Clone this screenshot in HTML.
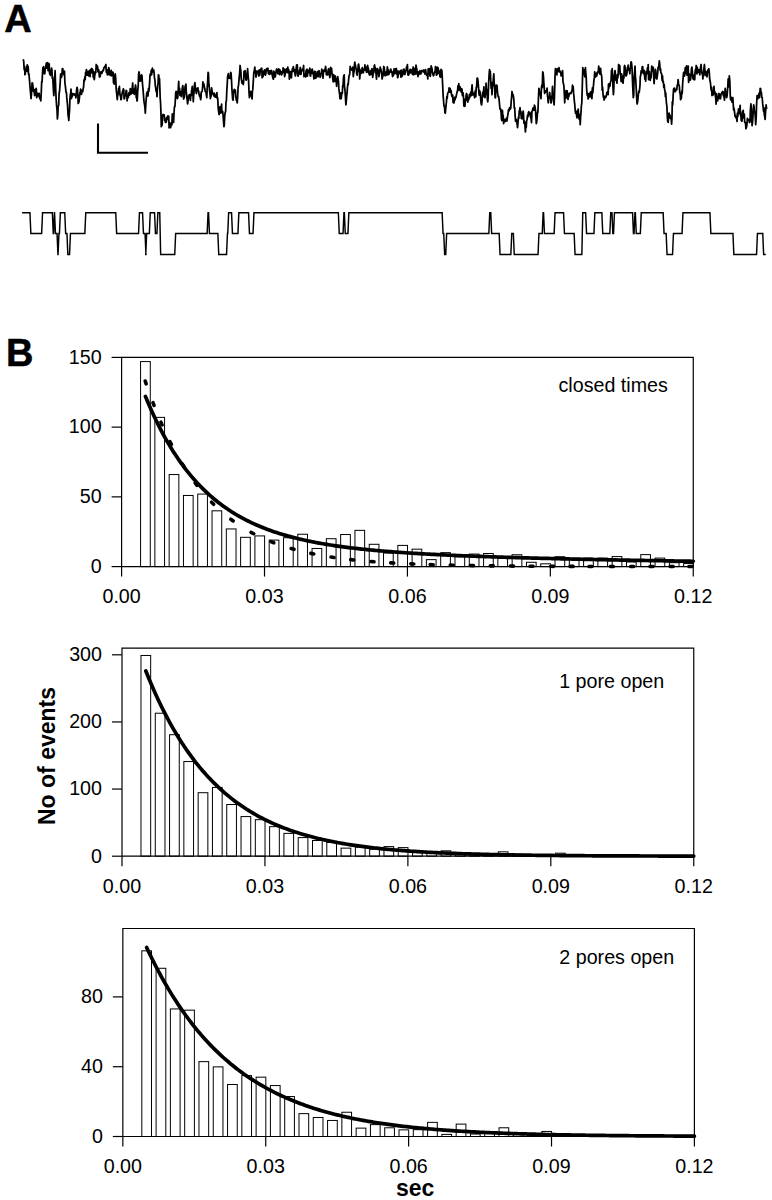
<!DOCTYPE html>
<html><head><meta charset="utf-8"><style>
html,body{margin:0;padding:0;background:#fff;}
svg{display:block;}
</style></head><body>
<svg width="772" height="1200" viewBox="0 0 772 1200">
<rect width="772" height="1200" fill="#fff"/>
<text x="4.2" y="31.8" font-family='"Liberation Sans", sans-serif' font-weight="bold" font-size="38" fill="#000" stroke="#000" stroke-width="0.5">A</text>
<text x="6.0" y="366.3" font-family='"Liberation Sans", sans-serif' font-weight="bold" font-size="38" fill="#000" stroke="#000" stroke-width="0.5">B</text>
<path d="M23.2,59.3 L23.7,61.3 L24.2,69.7 L24.6,66.3 L24.9,74.7 L25.3,73.8 L25.7,69.3 L26.1,70.4 L26.4,71.1 L26.8,67.1 L27.3,64.8 L27.8,71.8 L28.2,66.6 L28.5,73.9 L28.9,73.8 L29.4,79.0 L29.9,85.4 L30.4,91.5 L30.7,94.4 L31.0,98.7 L31.4,94.9 L31.8,88.5 L32.1,82.8 L32.5,83.2 L33.0,86.9 L33.5,91.5 L33.9,90.1 L34.2,89.6 L34.6,95.6 L35.0,95.2 L35.4,91.8 L35.7,91.3 L36.1,88.3 L36.4,90.2 L36.7,97.7 L37.1,95.2 L37.5,93.7 L37.9,93.4 L38.3,95.8 L38.7,94.6 L39.1,93.4 L39.5,97.6 L39.9,98.6 L40.3,98.7 L40.8,100.8 L41.3,91.5 L41.7,81.6 L42.1,82.0 L42.5,73.3 L42.9,67.6 L43.3,69.1 L43.6,66.6 L44.0,71.0 L44.4,73.8 L44.8,73.7 L45.2,69.2 L45.7,67.5 L46.1,64.3 L46.5,63.0 L46.9,68.2 L47.3,66.8 L47.7,62.6 L48.1,70.7 L48.5,69.5 L48.9,66.7 L49.2,63.9 L49.6,73.8 L50.0,71.3 L50.4,75.5 L50.8,70.9 L51.2,69.7 L51.6,68.2 L52.0,70.7 L52.3,78.3 L52.7,76.9 L53.1,83.6 L53.4,89.5 L53.8,95.6 L54.2,87.2 L54.7,79.1 L55.1,70.7 L55.5,83.4 L55.8,91.5 L56.2,99.9 L56.6,105.8 L57.0,109.1 L57.4,118.9 L57.8,114.9 L58.2,106.0 L58.7,105.5 L59.1,93.4 L59.5,91.5 L59.9,86.7 L60.2,82.6 L60.6,74.5 L61.0,73.8 L61.5,77.3 L61.9,75.3 L62.3,68.7 L62.8,68.7 L63.2,72.9 L63.7,73.9 L64.1,74.9 L64.5,71.2 L64.9,82.9 L65.3,85.6 L65.7,89.4 L66.1,92.7 L66.5,92.6 L66.8,97.9 L67.2,101.8 L67.6,106.0 L68.0,114.5 L68.4,116.8 L68.8,120.5 L69.2,114.0 L69.5,111.8 L69.9,99.5 L70.3,94.6 L70.7,93.4 L71.0,89.2 L71.4,98.5 L71.8,96.7 L72.2,96.4 L72.5,95.5 L72.9,93.5 L73.3,94.2 L73.8,94.8 L74.2,93.8 L74.6,94.3 L75.1,95.4 L75.5,95.6 L75.9,97.8 L76.3,93.0 L76.7,89.2 L77.1,87.3 L77.5,89.6 L77.8,93.3 L78.2,103.4 L78.6,102.8 L79.0,101.6 L79.4,97.8 L79.8,94.1 L80.2,92.5 L80.6,89.2 L81.1,92.0 L81.5,94.4 L81.9,90.7 L82.4,91.0 L82.8,91.5 L83.2,88.5 L83.6,87.0 L84.0,79.8 L84.4,81.2 L84.8,77.0 L85.2,79.4 L85.6,72.4 L86.0,73.7 L86.4,69.7 L86.8,75.2 L87.2,71.3 L87.7,71.7 L88.1,75.2 L88.5,75.9 L88.9,74.7 L89.3,70.6 L89.7,73.5 L90.1,76.6 L90.5,69.7 L90.9,69.5 L91.3,70.3 L91.6,68.5 L92.0,72.8 L92.4,69.0 L92.8,70.0 L93.2,77.2 L93.6,71.7 L93.9,77.8 L94.3,79.6 L94.7,75.9 L95.1,73.8 L95.5,71.7 L95.8,72.8 L96.2,64.5 L96.7,65.8 L97.1,66.5 L97.5,66.2 L98.0,71.8 L98.6,69.7 L99.0,71.4 L99.4,76.9 L99.8,77.0 L100.2,75.9 L100.6,72.4 L101.0,71.9 L101.5,72.0 L101.9,73.4 L102.3,71.8 L102.7,70.4 L103.1,70.8 L103.5,70.2 L103.9,67.7 L104.3,67.6 L104.7,67.5 L105.1,65.9 L105.5,66.7 L105.9,64.5 L106.3,72.3 L106.7,71.4 L107.0,72.5 L107.4,74.9 L107.8,69.6 L108.2,74.7 L108.7,67.6 L109.1,68.5 L109.5,71.8 L109.9,75.0 L110.3,75.4 L110.8,73.8 L111.2,70.3 L111.6,75.9 L112.0,74.0 L112.3,72.2 L112.7,75.0 L113.1,72.3 L113.5,82.6 L113.8,80.8 L114.2,84.2 L114.7,76.8 L115.2,73.8 L115.7,78.3 L116.2,89.4 L116.6,92.7 L116.9,95.8 L117.3,99.7 L117.7,93.8 L118.1,94.7 L118.6,88.4 L119.0,92.1 L119.4,86.3 L119.8,92.6 L120.2,96.0 L120.5,95.0 L120.9,99.7 L121.3,99.3 L121.7,95.6 L122.2,93.0 L122.6,91.3 L123.0,90.4 L123.4,88.8 L123.8,90.5 L124.1,98.8 L124.5,98.7 L124.9,96.1 L125.3,95.2 L125.7,95.3 L126.1,90.4 L126.6,90.7 L127.1,100.8 L127.5,96.9 L127.9,98.0 L128.4,96.9 L128.8,93.1 L129.2,92.5 L129.6,95.2 L129.9,92.8 L130.3,88.7 L130.7,89.3 L131.1,94.0 L131.4,92.9 L131.8,91.5 L132.3,87.3 L132.7,83.0 L133.1,93.2 L133.5,92.1 L133.9,91.5 L134.3,94.4 L134.7,88.7 L135.1,88.2 L135.5,85.0 L135.9,87.3 L136.2,97.5 L136.6,93.0 L137.0,101.0 L137.3,99.7 L137.7,90.9 L138.2,86.2 L138.6,74.1 L139.0,71.8 L139.4,73.8 L139.7,80.8 L140.1,81.1 L140.5,76.0 L140.8,81.0 L141.2,77.4 L141.6,74.9 L142.0,75.8 L142.3,81.1 L142.7,86.3 L143.2,91.2 L143.7,98.7 L144.1,102.2 L144.5,104.4 L144.9,107.3 L145.3,113.2 L145.8,104.6 L146.3,97.7 L146.7,93.8 L147.2,92.0 L147.6,94.5 L148.0,96.0 L148.5,88.3 L148.9,91.5 L149.3,87.1 L149.7,80.8 L150.0,75.5 L150.4,73.8 L150.8,75.2 L151.2,70.3 L151.6,74.9 L152.0,69.7 L152.4,68.1 L152.8,72.0 L153.3,70.9 L153.7,70.1 L154.1,72.8 L154.5,78.2 L154.9,79.8 L155.3,85.7 L155.7,87.6 L156.1,91.5 L156.6,91.0 L157.0,96.6 L157.3,90.9 L157.7,85.9 L158.1,83.0 L158.4,74.9 L158.8,75.2 L159.1,80.5 L159.5,78.6 L159.8,86.3 L160.2,98.2 L160.6,103.5 L160.9,111.5 L161.3,126.7 L161.7,124.3 L162.1,125.2 L162.6,115.6 L163.0,114.5 L163.4,115.3 L163.8,114.7 L164.2,115.0 L164.7,120.7 L165.1,118.8 L165.5,122.5 L165.9,119.5 L166.3,122.1 L166.7,117.3 L167.1,119.6 L167.5,117.4 L167.9,116.0 L168.3,116.6 L168.7,116.1 L169.1,127.8 L169.4,122.9 L169.8,125.8 L170.2,126.3 L170.6,127.7 L171.0,125.4 L171.4,122.4 L171.9,124.9 L172.3,114.0 L172.7,114.2 L173.1,114.0 L173.6,122.5 L174.0,113.7 L174.4,106.8 L174.9,106.6 L175.3,100.8 L175.7,92.5 L176.1,91.4 L176.5,91.7 L176.9,96.2 L177.3,98.7 L177.8,97.4 L178.3,88.3 L178.7,81.4 L179.1,91.9 L179.6,88.4 L180.0,95.4 L180.4,93.5 L180.9,92.0 L181.4,96.6 L181.9,91.2 L182.4,87.3 L182.8,85.7 L183.2,89.8 L183.6,99.0 L184.0,97.7 L184.4,97.0 L184.8,90.6 L185.1,86.3 L185.5,85.8 L185.9,84.1 L186.3,91.9 L186.8,96.6 L187.2,100.0 L187.6,103.9 L188.0,101.3 L188.4,96.1 L188.8,96.7 L189.2,94.6 L189.6,94.7 L190.0,98.6 L190.4,100.4 L190.8,95.0 L191.2,95.6 L191.6,90.4 L191.9,89.2 L192.3,86.3 L192.8,92.3 L193.3,101.8 L193.7,94.9 L194.1,92.0 L194.5,84.5 L194.9,82.6 L195.3,87.0 L195.7,87.8 L196.0,91.5 L196.4,93.5 L196.8,91.6 L197.1,88.7 L197.5,89.4 L197.9,87.8 L198.2,90.8 L198.6,90.9 L199.0,93.5 L199.4,95.7 L199.8,96.6 L200.2,94.3 L200.6,99.7 L201.0,97.8 L201.3,91.8 L201.7,91.8 L202.1,91.5 L202.5,88.7 L202.9,81.8 L203.3,85.9 L203.7,83.7 L204.1,86.1 L204.4,87.2 L204.8,88.4 L205.2,91.5 L205.6,92.0 L206.0,91.9 L206.4,95.4 L206.8,97.7 L207.2,87.7 L207.7,81.0 L208.1,72.3 L208.5,73.6 L208.8,82.3 L209.2,86.3 L209.6,90.8 L210.0,94.2 L210.4,98.7 L210.8,95.4 L211.2,96.1 L211.6,87.8 L212.0,90.4 L212.4,92.7 L212.8,93.2 L213.1,94.3 L213.5,94.6 L213.9,95.9 L214.3,93.2 L214.8,94.5 L215.2,97.2 L215.6,95.6 L216.0,97.2 L216.4,97.0 L216.9,92.6 L217.3,98.8 L217.7,97.7 L218.2,108.2 L218.7,112.2 L219.1,114.6 L219.5,112.0 L220.0,106.6 L220.4,113.2 L220.8,110.1 L221.2,110.2 L221.6,104.1 L221.9,112.7 L222.3,112.2 L222.7,111.6 L223.1,115.8 L223.5,121.3 L223.9,126.7 L224.3,125.3 L224.7,115.7 L225.2,112.5 L225.6,111.7 L226.0,101.8 L226.4,100.9 L226.8,90.8 L227.2,85.0 L227.6,76.7 L228.0,74.9 L228.4,73.7 L228.8,77.6 L229.2,78.3 L229.6,78.0 L230.0,77.1 L230.3,78.4 L230.7,72.3 L231.1,73.3 L231.5,79.7 L231.9,88.5 L232.3,94.7 L232.7,99.7 L233.1,100.1 L233.4,95.7 L233.8,91.1 L234.2,89.4 L234.6,92.2 L235.0,90.2 L235.4,90.2 L235.8,96.6 L236.3,100.3 L236.7,100.6 L237.2,102.8 L237.6,98.2 L238.1,87.2 L238.5,85.5 L238.9,81.1 L239.3,76.3 L239.7,72.5 L240.1,65.5 L240.5,68.7 L240.9,71.4 L241.2,78.5 L241.6,80.6 L242.0,83.2 L242.4,81.2 L242.8,82.6 L243.2,84.5 L243.6,82.1 L244.0,71.5 L244.3,76.1 L244.7,75.1 L245.1,70.7 L245.5,74.7 L245.8,79.6 L246.2,80.1 L246.6,79.0 L247.1,74.7 L247.6,68.7 L248.1,75.7 L248.6,81.1 L249.0,91.6 L249.4,97.7 L249.8,94.1 L250.3,93.5 L250.7,91.5 L251.2,96.1 L251.7,95.6 L252.1,99.0 L252.4,91.0 L252.8,89.4 L253.3,81.0 L253.8,72.8 L254.3,70.5 L254.8,67.1 L255.2,72.8 L255.6,70.9 L256.0,77.1 L256.4,74.9 L256.8,71.2 L257.2,72.4 L257.7,71.4 L258.1,71.0 L258.5,74.2 L258.9,76.0 L259.3,69.8 L259.8,75.1 L260.2,70.4 L260.6,71.7 L261.1,68.5 L261.4,68.7 L261.8,68.3 L262.1,77.6 L262.5,76.7 L262.9,76.7 L263.3,75.3 L263.7,71.2 L264.2,74.1 L264.6,69.8 L265.0,70.3 L265.4,75.2 L265.9,73.2 L266.3,69.6 L266.7,68.6 L267.1,70.4 L267.5,68.7 L267.9,68.2 L268.3,73.5 L268.8,73.7 L269.2,74.4 L269.6,71.0 L270.0,73.0 L270.3,71.0 L270.7,73.8 L271.1,70.4 L271.6,70.7 L272.0,73.2 L272.5,76.5 L272.9,78.1 L273.4,79.2 L273.8,71.2 L274.2,77.1 L274.6,72.1 L274.9,72.9 L275.3,76.9 L275.7,72.9 L276.1,72.1 L276.5,69.1 L276.9,71.3 L277.3,72.2 L277.7,73.6 L278.0,70.5 L278.4,68.8 L278.8,73.9 L279.2,69.3 L279.6,74.6 L280.1,70.1 L280.5,71.6 L280.9,71.7 L281.2,73.2 L281.6,74.9 L282.0,73.7 L282.4,71.6 L282.7,72.8 L283.1,67.8 L283.4,69.2 L283.8,69.6 L284.2,69.1 L284.6,76.6 L285.0,74.8 L285.4,73.3 L285.8,69.8 L286.1,69.4 L286.5,68.9 L286.9,69.2 L287.3,72.6 L287.8,67.1 L288.2,72.4 L288.6,69.4 L289.0,71.1 L289.4,79.1 L289.8,74.6 L290.2,71.8 L290.6,71.6 L291.0,74.0 L291.4,77.9 L291.8,72.3 L292.2,70.2 L292.6,68.4 L293.0,71.4 L293.3,66.6 L293.7,69.4 L294.1,71.4 L294.5,69.5 L294.8,72.4 L295.3,76.0 L295.7,73.5 L296.2,68.4 L296.6,65.0 L297.0,69.7 L297.3,64.9 L297.7,75.2 L298.1,76.2 L298.4,74.1 L298.8,74.3 L299.2,73.4 L299.5,70.0 L299.9,70.1 L300.3,67.5 L300.6,74.3 L301.0,74.4 L301.4,71.1 L301.9,71.1 L302.3,69.2 L302.7,69.7 L303.2,69.9 L303.6,65.5 L304.0,76.6 L304.5,74.4 L304.9,74.1 L305.3,75.5 L305.7,76.9 L306.1,70.4 L306.5,72.4 L307.0,69.2 L307.4,76.2 L307.8,72.4 L308.2,70.4 L308.6,71.1 L309.0,71.3 L309.4,72.7 L309.8,68.1 L310.2,75.8 L310.6,76.0 L311.0,70.1 L311.4,73.4 L311.8,70.6 L312.2,69.2 L312.6,70.8 L313.1,73.9 L313.5,75.0 L313.9,79.0 L314.2,75.8 L314.6,71.3 L315.0,74.5 L315.3,78.3 L315.7,71.7 L316.1,77.9 L316.6,76.7 L317.0,75.7 L317.4,74.4 L317.8,71.6 L318.2,76.6 L318.6,71.5 L319.0,70.7 L319.4,72.7 L319.8,74.3 L320.2,77.3 L320.6,76.3 L321.0,73.6 L321.4,73.3 L321.8,69.2 L322.3,70.9 L322.6,70.4 L323.0,78.3 L323.4,72.4 L323.8,71.4 L324.2,70.0 L324.5,71.3 L324.9,70.9 L325.3,68.1 L325.6,66.3 L326.0,70.2 L326.4,74.8 L326.7,73.6 L327.1,73.3 L327.5,72.0 L327.9,75.0 L328.2,69.7 L328.6,68.7 L329.0,71.8 L329.4,71.0 L329.8,77.6 L330.2,74.3 L330.6,67.4 L330.9,69.5 L331.3,68.3 L331.6,68.3 L332.0,74.0 L332.4,75.9 L332.8,78.6 L333.2,81.9 L333.6,74.6 L334.0,80.0 L334.4,81.4 L334.8,77.7 L335.1,75.9 L335.5,77.0 L335.9,81.6 L336.2,80.6 L336.6,86.3 L337.0,78.7 L337.4,81.6 L337.7,76.6 L338.1,79.0 L338.5,81.3 L338.8,88.4 L339.2,91.5 L339.6,93.8 L340.0,98.8 L340.4,95.3 L340.8,93.0 L341.2,98.7 L341.6,94.8 L341.9,92.7 L342.3,93.5 L342.7,85.7 L343.1,85.9 L343.4,78.5 L343.8,75.9 L344.2,74.9 L344.5,86.9 L344.9,89.4 L345.4,96.8 L345.9,104.9 L346.3,101.2 L346.7,95.9 L347.1,92.7 L347.5,86.3 L347.9,83.8 L348.2,84.6 L348.6,79.7 L349.0,75.9 L349.4,75.2 L349.8,73.4 L350.2,66.4 L350.6,68.7 L351.0,68.6 L351.5,68.6 L351.9,70.2 L352.4,70.0 L352.8,67.2 L353.3,76.7 L353.7,73.2 L354.1,71.4 L354.4,65.7 L354.8,62.2 L355.2,64.9 L355.6,66.1 L355.9,68.7 L356.3,69.0 L356.7,73.4 L357.1,75.1 L357.5,70.6 L357.9,71.2 L358.2,64.9 L358.6,64.1 L359.0,66.5 L359.4,71.9 L359.7,78.9 L360.1,74.2 L360.5,70.6 L360.8,71.3 L361.2,69.5 L361.5,73.3 L361.9,70.3 L362.3,67.7 L362.7,70.1 L363.0,72.0 L363.4,72.7 L363.8,69.5 L364.1,69.0 L364.5,69.9 L364.9,64.8 L365.2,70.2 L365.6,66.7 L366.1,70.1 L366.5,72.2 L366.9,72.3 L367.2,70.8 L367.6,65.3 L368.0,68.0 L368.4,68.3 L368.8,72.8 L369.2,74.3 L369.6,75.0 L370.0,74.0 L370.4,71.0 L370.8,74.6 L371.2,70.4 L371.6,71.3 L372.0,68.7 L372.3,70.5 L372.7,77.4 L373.1,74.1 L373.5,72.4 L373.8,72.8 L374.2,65.9 L374.6,65.0 L375.0,69.7 L375.3,67.5 L375.7,70.8 L376.0,73.3 L376.5,79.2 L376.9,73.3 L377.3,68.7 L377.7,69.0 L378.1,70.2 L378.5,72.8 L378.9,76.6 L379.3,74.6 L379.7,71.9 L380.2,67.1 L380.6,69.8 L381.0,69.3 L381.4,71.3 L381.8,73.6 L382.1,79.0 L382.5,77.4 L382.9,75.7 L383.3,74.4 L383.7,66.5 L384.2,67.0 L384.6,70.9 L385.0,75.8 L385.4,73.6 L385.8,73.0 L386.2,72.8 L386.5,71.6 L386.9,75.3 L387.3,66.9 L387.6,68.6 L388.0,69.6 L388.3,72.5 L388.7,74.7 L389.0,73.9 L389.5,71.5 L389.9,72.4 L390.4,69.6 L390.8,69.2 L391.2,71.4 L391.6,72.5 L392.0,71.5 L392.5,76.5 L392.9,74.7 L393.3,75.6 L393.8,71.5 L394.1,68.9 L394.5,71.0 L394.9,73.7 L395.3,68.9 L395.7,72.0 L396.0,72.3 L396.4,68.5 L396.8,74.3 L397.2,70.9 L397.6,77.6 L398.0,77.1 L398.3,71.1 L398.7,72.0 L399.2,73.7 L399.6,71.6 L400.1,71.0 L400.5,72.2 L400.9,77.2 L401.2,70.2 L401.6,74.8 L402.0,76.5 L402.4,72.1 L402.8,74.9 L403.2,69.7 L403.6,70.9 L404.0,69.2 L404.4,72.5 L404.8,74.5 L405.2,73.2 L405.7,71.2 L406.1,70.4 L406.6,66.9 L407.0,67.3 L407.4,64.6 L407.9,74.9 L408.3,74.2 L408.7,75.0 L409.2,72.2 L409.6,70.8 L410.1,69.4 L410.4,73.0 L410.8,69.6 L411.1,69.6 L411.5,72.3 L411.9,71.1 L412.4,74.4 L412.8,70.4 L413.2,67.0 L413.7,74.8 L414.1,70.2 L414.5,72.5 L414.9,68.5 L415.3,74.1 L415.7,69.4 L416.0,65.1 L416.4,67.7 L416.8,68.7 L417.2,74.4 L417.6,73.8 L418.0,76.7 L418.4,71.8 L418.8,73.8 L419.2,74.3 L419.6,71.9 L419.9,70.6 L420.3,73.8 L420.7,73.2 L421.0,73.8 L421.5,71.3 L421.9,70.5 L422.3,70.9 L422.7,71.4 L423.1,71.6 L423.5,70.2 L423.9,72.1 L424.3,70.3 L424.8,74.0 L425.2,70.8 L425.6,69.6 L426.1,73.2 L426.5,75.2 L427.0,74.5 L427.4,74.0 L427.8,79.0 L428.2,69.0 L428.7,72.3 L429.1,68.7 L429.5,68.7 L429.9,75.8 L430.3,76.3 L430.7,72.5 L431.2,65.9 L431.6,67.6 L432.1,69.3 L432.5,72.6 L433.0,74.5 L433.4,75.8 L433.8,75.2 L434.2,72.9 L434.7,72.2 L435.1,70.7 L435.5,66.7 L435.9,69.3 L436.4,75.1 L436.8,75.0 L437.2,67.2 L437.6,73.8 L437.9,67.6 L438.3,68.9 L438.8,73.3 L439.2,71.6 L439.6,71.4 L440.0,76.6 L440.5,77.2 L440.6,70.7 L441.0,69.4 L441.4,70.7 L441.8,70.2 L442.2,75.9 L442.7,86.2 L443.2,96.6 L443.6,101.3 L444.0,106.1 L444.5,106.2 L444.9,112.8 L445.3,113.2 L445.7,109.1 L446.1,104.6 L446.4,102.4 L446.8,96.6 L447.2,98.5 L447.6,93.6 L448.0,92.8 L448.4,92.0 L448.7,91.6 L449.1,87.9 L449.5,92.2 L449.9,88.3 L450.3,88.8 L450.7,92.7 L451.1,90.7 L451.5,94.6 L451.9,96.2 L452.3,96.8 L452.7,95.1 L453.1,102.5 L453.5,98.5 L453.9,103.0 L454.3,101.3 L454.7,97.3 L455.1,99.7 L455.5,97.0 L455.9,97.6 L456.4,95.0 L456.8,93.3 L457.2,91.5 L457.6,90.3 L458.0,85.6 L458.4,89.7 L458.8,83.7 L459.1,90.5 L459.5,87.1 L459.9,86.7 L460.3,88.3 L460.7,89.1 L461.1,92.0 L461.6,88.7 L462.0,89.2 L462.4,95.6 L462.8,94.1 L463.1,92.9 L463.5,97.3 L463.9,106.0 L464.3,100.1 L464.6,106.3 L465.0,106.0 L465.4,99.0 L465.8,100.6 L466.1,95.7 L466.5,93.5 L466.9,94.6 L467.3,97.6 L467.8,102.1 L468.2,99.0 L468.6,99.7 L469.0,98.8 L469.4,94.4 L469.8,97.5 L470.1,93.9 L470.5,95.6 L470.9,91.9 L471.3,95.6 L471.7,89.4 L472.1,84.9 L472.4,90.6 L472.8,94.9 L473.1,93.5 L473.5,93.6 L473.9,93.4 L474.3,95.9 L474.7,97.7 L475.1,91.2 L475.4,92.8 L475.8,96.7 L476.2,87.3 L476.6,87.4 L477.1,78.0 L477.5,78.0 L477.9,80.1 L478.4,85.9 L478.8,91.5 L479.2,95.1 L479.6,90.7 L480.0,91.9 L480.4,94.6 L480.8,100.5 L481.2,103.9 L481.6,104.9 L482.0,101.2 L482.4,96.4 L482.7,92.5 L483.1,92.2 L483.5,91.5 L483.9,86.8 L484.2,96.7 L484.6,94.4 L485.0,97.7 L485.4,94.2 L485.7,93.3 L486.1,83.2 L486.5,91.1 L487.0,89.3 L487.4,99.6 L487.8,101.8 L488.2,97.0 L488.6,83.7 L489.1,75.1 L489.5,69.7 L489.9,72.5 L490.3,71.4 L490.7,79.0 L491.1,88.3 L491.6,82.7 L492.0,94.6 L492.4,87.3 L492.7,85.5 L493.1,81.5 L493.4,78.4 L493.8,73.8 L494.2,82.5 L494.7,89.1 L495.1,97.7 L495.5,97.8 L495.9,85.5 L496.3,88.3 L496.7,85.2 L497.1,86.0 L497.4,91.3 L497.8,94.4 L498.2,96.6 L498.6,96.5 L499.1,99.7 L499.5,103.9 L499.9,108.4 L500.3,109.5 L500.7,109.0 L501.1,113.2 L501.5,119.3 L501.9,120.5 L502.4,110.4 L502.8,115.7 L503.2,115.3 L503.6,123.6 L504.0,120.0 L504.4,119.6 L504.8,119.7 L505.2,121.5 L505.6,119.4 L506.0,119.7 L506.5,118.1 L506.9,121.1 L507.3,118.4 L507.7,115.5 L508.1,113.5 L508.5,109.6 L508.9,111.1 L509.3,110.5 L509.6,107.6 L510.0,109.1 L510.4,109.1 L510.8,107.6 L511.2,101.3 L511.6,97.3 L512.0,91.5 L512.4,93.8 L512.8,94.2 L513.1,95.0 L513.5,96.6 L513.9,100.4 L514.3,108.1 L514.7,107.6 L515.1,115.3 L515.5,121.1 L515.9,119.5 L516.3,119.4 L516.7,122.2 L517.1,123.7 L517.5,127.7 L517.9,124.0 L518.4,117.4 L518.8,118.4 L519.2,111.1 L519.6,110.4 L520.0,107.7 L520.5,113.4 L520.9,111.3 L521.3,118.4 L521.7,117.0 L522.0,118.8 L522.4,116.3 L522.8,113.2 L523.2,111.1 L523.5,114.4 L523.9,123.2 L524.3,120.8 L524.7,121.6 L525.0,126.3 L525.4,131.9 L525.8,126.7 L526.2,127.5 L526.6,121.4 L527.1,119.1 L527.5,115.3 L527.9,116.8 L528.3,113.1 L528.8,111.7 L529.2,114.6 L529.6,114.2 L530.0,112.6 L530.4,116.1 L530.7,117.6 L531.1,118.4 L531.5,122.6 L531.9,111.4 L532.3,111.1 L532.7,109.1 L533.1,108.0 L533.5,109.1 L534.0,110.2 L534.4,105.2 L534.8,106.0 L535.2,108.1 L535.5,110.2 L535.9,116.6 L536.3,123.6 L536.7,122.3 L537.1,118.0 L537.5,112.2 L537.9,112.2 L538.4,99.2 L538.9,88.3 L539.3,90.5 L539.7,93.9 L540.2,92.9 L540.6,95.9 L541.0,98.7 L541.4,88.4 L541.8,85.1 L542.3,87.7 L542.7,71.9 L543.1,72.8 L543.5,77.0 L543.9,83.8 L544.2,87.3 L544.6,93.5 L545.0,90.6 L545.4,92.1 L545.9,91.6 L546.3,90.8 L546.7,90.4 L547.1,88.2 L547.5,96.2 L547.8,97.3 L548.2,102.8 L548.6,98.7 L549.0,98.3 L549.3,96.9 L549.7,92.5 L550.1,97.6 L550.5,96.3 L550.8,102.8 L551.2,102.8 L551.6,100.6 L552.1,95.0 L552.5,86.3 L552.9,94.8 L553.3,95.2 L553.7,99.8 L554.1,104.9 L554.5,95.1 L555.0,76.9 L555.4,68.7 L555.8,70.8 L556.1,70.3 L556.5,72.3 L556.9,74.9 L557.3,68.6 L557.7,69.5 L558.2,70.5 L558.6,71.5 L559.0,67.6 L559.4,72.0 L559.8,70.7 L560.3,72.0 L560.7,71.9 L561.1,75.9 L561.5,75.7 L561.9,72.6 L562.2,73.7 L562.6,70.7 L563.0,82.0 L563.4,83.4 L563.9,85.8 L564.3,94.0 L564.7,102.8 L565.2,94.1 L565.7,93.5 L566.1,90.5 L566.5,97.9 L566.9,95.3 L567.2,90.8 L567.6,97.3 L568.0,99.4 L568.4,95.2 L568.8,96.6 L569.2,93.4 L569.6,93.1 L570.0,93.6 L570.4,93.3 L570.9,93.6 L571.3,92.4 L571.7,91.1 L572.1,90.3 L572.5,85.2 L572.9,89.9 L573.2,86.6 L573.6,93.4 L574.0,96.6 L574.4,101.6 L574.7,103.9 L575.1,109.1 L575.5,113.2 L575.9,111.2 L576.2,111.2 L576.6,115.3 L577.0,117.8 L577.4,114.1 L577.8,111.3 L578.2,109.1 L578.6,114.8 L579.0,118.3 L579.4,119.4 L579.8,114.6 L580.2,124.6 L580.6,117.3 L581.0,112.4 L581.4,105.5 L581.8,102.8 L582.3,85.8 L582.8,67.6 L583.2,72.8 L583.6,69.9 L584.0,69.9 L584.4,74.9 L584.9,76.9 L585.4,67.6 L585.8,72.8 L586.2,77.1 L586.6,87.7 L587.0,93.5 L587.4,95.7 L587.8,93.6 L588.1,98.9 L588.5,97.7 L588.9,95.6 L589.2,93.6 L589.6,96.0 L590.0,96.9 L590.4,92.2 L590.7,94.2 L591.1,92.5 L591.5,91.4 L591.9,98.7 L592.4,88.0 L592.8,93.0 L593.2,88.3 L593.6,84.0 L594.0,79.7 L594.3,77.9 L594.7,71.8 L595.1,75.1 L595.5,77.0 L596.0,75.2 L596.4,73.4 L596.8,75.9 L597.2,72.4 L597.6,73.4 L597.9,71.6 L598.3,72.0 L598.7,66.1 L599.1,68.6 L599.5,71.6 L599.9,74.2 L600.2,71.7 L600.6,68.4 L601.0,73.8 L601.4,74.4 L601.8,77.7 L602.2,90.1 L602.6,87.2 L603.0,93.5 L603.4,97.5 L603.7,96.3 L604.1,100.1 L604.5,98.7 L604.9,96.2 L605.2,96.5 L605.6,97.7 L606.0,96.7 L606.4,95.7 L606.9,92.5 L607.3,92.6 L607.7,91.5 L608.1,94.7 L608.5,84.1 L608.9,88.3 L609.2,83.8 L609.6,85.5 L610.0,86.1 L610.4,82.2 L610.8,81.1 L611.1,80.2 L611.5,70.4 L611.9,74.9 L612.2,68.7 L612.6,75.6 L613.0,87.7 L613.4,94.6 L613.8,89.1 L614.2,75.4 L614.6,74.6 L615.0,70.7 L615.4,73.8 L615.8,80.1 L616.2,79.0 L616.6,81.4 L617.0,83.2 L617.4,74.6 L617.8,77.9 L618.2,74.2 L618.6,64.5 L619.0,66.4 L619.4,67.6 L619.8,65.5 L620.2,74.4 L620.6,73.8 L621.1,81.4 L621.6,73.8 L622.0,78.2 L622.4,82.0 L622.7,82.4 L623.1,83.2 L623.5,76.0 L623.9,78.1 L624.3,66.5 L624.7,65.5 L625.1,67.5 L625.5,71.5 L625.8,75.8 L626.2,75.9 L626.6,75.0 L627.0,72.8 L627.4,67.5 L627.8,67.6 L628.2,65.2 L628.6,70.3 L629.0,69.3 L629.4,68.9 L629.8,73.8 L630.2,68.2 L630.5,68.3 L630.9,62.4 L631.2,61.8 L631.6,63.5 L632.0,67.5 L632.5,81.1 L632.9,90.3 L633.3,97.7 L633.7,95.4 L634.1,77.7 L634.6,72.1 L635.0,66.1 L635.4,76.3 L635.8,80.7 L636.2,88.1 L636.6,96.6 L637.1,104.0 L637.6,101.8 L638.0,98.5 L638.4,93.9 L638.8,91.1 L639.2,92.5 L639.6,89.3 L640.0,85.1 L640.3,76.2 L640.7,75.9 L641.1,70.8 L641.5,72.7 L641.9,70.5 L642.3,66.6 L642.7,66.6 L643.0,71.9 L643.4,73.6 L643.8,73.8 L644.2,70.3 L644.6,75.8 L644.9,79.3 L645.3,78.0 L645.7,81.1 L646.2,71.7 L646.6,73.6 L647.0,73.1 L647.5,67.6 L647.9,73.6 L648.2,64.6 L648.6,79.6 L649.0,73.8 L649.4,71.7 L649.8,78.6 L650.2,80.4 L650.6,78.0 L651.0,77.9 L651.4,72.7 L651.7,66.2 L652.1,66.6 L652.5,70.9 L652.9,69.7 L653.3,67.3 L653.7,76.9 L654.1,83.6 L654.5,76.4 L655.0,78.3 L655.4,69.4 L655.8,70.7 L656.2,76.1 L656.5,77.8 L656.9,79.0 L657.3,75.9 L657.7,73.2 L658.1,67.3 L658.5,67.6 L658.9,65.5 L659.3,60.8 L659.7,63.7 L660.1,70.1 L660.5,68.6 L660.9,72.8 L661.3,73.1 L661.7,74.0 L662.1,80.5 L662.5,75.9 L662.9,82.2 L663.3,81.2 L663.8,87.4 L664.2,84.5 L664.6,89.4 L665.0,90.8 L665.4,96.6 L665.7,92.9 L666.1,98.7 L666.5,103.6 L666.9,106.4 L667.3,116.1 L667.7,121.5 L668.2,122.4 L668.7,114.2 L669.1,113.1 L669.5,116.9 L669.9,114.8 L670.3,118.4 L670.7,117.1 L671.2,118.7 L671.6,124.1 L672.0,117.0 L672.3,101.8 L672.7,105.0 L673.1,96.4 L673.5,89.7 L673.9,88.3 L674.3,90.7 L674.7,88.2 L675.2,91.8 L675.6,90.8 L676.0,90.4 L676.4,90.0 L676.8,89.7 L677.2,85.2 L677.7,84.5 L678.1,79.6 L678.5,83.2 L678.9,85.3 L679.3,85.8 L679.8,92.7 L680.2,93.7 L680.6,99.7 L681.0,98.4 L681.4,97.9 L681.8,91.1 L682.2,93.5 L682.7,82.9 L683.2,76.9 L683.6,72.4 L684.0,75.3 L684.5,76.1 L684.9,71.8 L685.3,67.6 L685.7,67.5 L686.1,73.4 L686.6,65.9 L687.0,75.2 L687.4,71.8 L687.8,71.0 L688.2,66.1 L688.6,82.3 L689.0,80.3 L689.3,74.0 L689.7,78.4 L690.1,78.4 L690.5,80.0 L691.0,74.6 L691.5,68.7 L691.9,67.1 L692.4,71.9 L692.8,77.7 L693.2,79.0 L693.6,78.2 L694.0,79.5 L694.3,74.9 L694.7,79.8 L695.1,71.8 L695.5,69.5 L695.8,71.9 L696.2,65.5 L696.6,67.1 L697.0,74.0 L697.3,67.4 L697.7,69.7 L698.1,72.2 L698.5,71.6 L699.0,69.9 L699.4,72.9 L699.8,74.9 L700.2,70.0 L700.7,66.6 L701.1,64.5 L701.5,70.2 L702.0,73.6 L702.5,73.8 L702.9,79.0 L703.3,72.8 L703.6,72.5 L704.0,67.8 L704.4,64.5 L704.8,69.2 L705.1,75.5 L705.5,72.2 L705.9,71.5 L706.3,72.9 L706.6,72.7 L707.0,76.9 L707.5,72.3 L707.9,70.0 L708.3,69.6 L708.8,68.7 L709.2,71.6 L709.7,79.0 L710.1,81.1 L710.5,83.1 L710.8,86.7 L711.2,90.4 L711.6,87.3 L712.0,95.6 L712.3,92.6 L712.7,91.5 L713.1,94.8 L713.6,90.3 L714.0,86.3 L714.4,93.6 L714.9,91.8 L715.3,95.6 L715.7,98.1 L716.1,104.2 L716.5,93.7 L716.9,97.7 L717.3,100.2 L717.7,100.8 L718.1,96.4 L718.5,96.5 L718.9,93.5 L719.3,98.4 L719.7,94.2 L720.1,98.6 L720.5,98.7 L720.9,94.8 L721.3,93.9 L721.8,92.6 L722.2,92.5 L722.6,91.5 L723.0,93.5 L723.4,95.9 L723.7,92.1 L724.1,97.7 L724.5,100.2 L724.8,94.7 L725.2,88.3 L725.6,92.7 L726.0,92.0 L726.3,95.1 L726.7,97.7 L727.1,95.5 L727.4,91.3 L727.8,86.3 L728.2,78.9 L728.5,83.2 L728.9,86.9 L729.3,75.9 L729.8,80.9 L730.3,96.6 L730.7,99.9 L731.1,98.5 L731.6,97.5 L732.0,102.2 L732.4,98.7 L732.8,97.6 L733.2,103.8 L733.6,109.9 L734.0,108.0 L734.5,111.6 L735.0,116.3 L735.4,115.6 L735.8,117.7 L736.2,116.6 L736.6,118.4 L737.0,121.5 L737.4,113.2 L737.7,117.0 L738.1,113.2 L738.5,108.8 L738.9,113.6 L739.3,110.6 L739.7,110.1 L740.1,105.3 L740.5,115.3 L740.8,114.8 L741.2,120.5 L741.6,117.4 L742.0,121.3 L742.4,111.8 L742.8,113.2 L743.2,110.4 L743.5,117.8 L743.9,114.3 L744.3,114.2 L744.7,122.3 L745.1,122.4 L745.5,122.6 L745.9,128.8 L746.3,126.0 L746.6,127.1 L747.0,123.7 L747.4,118.4 L747.8,119.2 L748.2,120.2 L748.7,120.5 L749.1,120.0 L749.5,122.5 L750.0,121.9 L750.4,110.1 L750.9,103.9 L751.3,107.9 L751.7,117.0 L752.1,125.6 L752.5,122.5 L752.9,117.1 L753.3,109.7 L753.7,104.9 L754.1,106.9 L754.5,112.8 L754.9,111.9 L755.3,116.9 L755.7,124.6 L756.2,117.2 L756.6,103.9 L757.1,95.6 L757.5,96.4 L758.0,98.6 L758.4,96.7 L758.8,94.6 L759.1,93.1 L759.5,97.6 L759.9,91.8 L760.2,88.3 L760.6,88.7 L761.0,93.2 L761.4,92.5 L761.8,97.4 L762.2,97.5 L762.7,103.9 L763.1,106.9 L763.5,111.1 L763.9,107.5 L764.3,114.8 L764.7,116.5 L765.1,119.4 L765.6,110.9 L766.1,104.9 L766.6,109.1" fill="none" stroke="#000" stroke-width="1.75" stroke-linejoin="round"/>
<path d="M98,123.6 V152.8 H148" fill="none" stroke="#000" stroke-width="2.1"/>
<path d="M22.1,212.7 H29.95 L30.85,233.4 H41.65 L42.55,212.7 H52.35 L53.25,233.4 H53.55 L54.45,212.7 H54.55 L55.45,233.4 H57.05 L57.95,254.4 H58.05 L58.95,233.4 H59.45 L60.35,212.7 H64.75 L65.65,233.4 H66.95 L67.85,254.4 H69.55 L70.45,233.4 H84.85 L85.75,212.7 H115.75 L116.65,233.4 H138.55 L139.45,212.7 H142.55 L143.45,233.4 H145.05 L145.95,254.4 H145.75 L146.65,233.4 H149.35 L150.25,212.7 H154.55 L155.45,233.4 H156.95 L157.85,212.7 H159.75 L160.65,254.4 H174.75 L175.65,233.4 H207.15 L208.05,212.7 H208.55 L209.45,233.4 H217.85 L218.75,254.4 H226.55 L227.45,233.4 H227.75 L228.65,212.7 H231.55 L232.45,233.4 H237.95 L238.85,212.7 H248.55 L249.45,233.4 H253.05 L253.95,212.7 H338.35 L339.25,233.4 H343.05 L343.95,212.7 H344.35 L345.25,233.4 H347.95 L348.85,212.7 H442.15 L443.05,233.4 H443.75 L444.65,254.4 H445.75 L446.65,233.4 H488.85 L489.75,212.7 H490.75 L491.65,233.4 H499.15 L500.05,254.4 H510.85 L511.75,233.4 H513.35 L514.25,254.4 H538.05 L538.95,233.4 H542.25 L543.15,212.7 H543.55 L544.45,233.4 H554.15 L555.05,212.7 H563.55 L564.45,233.4 H574.15 L575.05,254.4 H581.85 L582.75,212.7 H585.65 L586.55,233.4 H593.95 L594.85,212.7 H601.85 L602.75,233.4 H609.85 L610.75,212.7 H611.95 L612.85,233.4 H613.55 L614.45,212.7 H632.55 L633.45,233.4 H634.05 L634.95,212.7 H635.35 L636.25,233.4 H640.35 L641.25,212.7 H663.15 L664.05,233.4 H666.15 L667.05,254.4 H672.55 L673.45,233.4 H682.05 L682.95,212.7 H709.95 L710.85,233.4 H732.95 L733.85,254.4 H756.55 L757.45,233.4 H762.75 L763.65,254.4 H765.8" fill="none" stroke="#000" stroke-width="1.45" stroke-linejoin="miter"/>
<rect x="140.57" y="361.58" width="9.7" height="205.02" fill="#fff" stroke="#000" stroke-width="1"/>
<rect x="154.86" y="417.37" width="9.7" height="149.23" fill="#fff" stroke="#000" stroke-width="1"/>
<rect x="169.15" y="474.55" width="9.7" height="92.05" fill="#fff" stroke="#000" stroke-width="1"/>
<rect x="183.44" y="495.47" width="9.7" height="71.13" fill="#fff" stroke="#000" stroke-width="1"/>
<rect x="197.73" y="494.08" width="9.7" height="72.52" fill="#fff" stroke="#000" stroke-width="1"/>
<rect x="212.03" y="510.81" width="9.7" height="55.79" fill="#fff" stroke="#000" stroke-width="1"/>
<rect x="226.32" y="528.94" width="9.7" height="37.66" fill="#fff" stroke="#000" stroke-width="1"/>
<rect x="240.61" y="537.31" width="9.7" height="29.29" fill="#fff" stroke="#000" stroke-width="1"/>
<rect x="254.90" y="535.92" width="9.7" height="30.68" fill="#fff" stroke="#000" stroke-width="1"/>
<rect x="269.19" y="540.10" width="9.7" height="26.50" fill="#fff" stroke="#000" stroke-width="1"/>
<rect x="283.48" y="537.73" width="9.7" height="28.87" fill="#fff" stroke="#000" stroke-width="1"/>
<rect x="297.77" y="534.24" width="9.7" height="32.36" fill="#fff" stroke="#000" stroke-width="1"/>
<rect x="312.06" y="548.47" width="9.7" height="18.13" fill="#fff" stroke="#000" stroke-width="1"/>
<rect x="326.35" y="538.71" width="9.7" height="27.89" fill="#fff" stroke="#000" stroke-width="1"/>
<rect x="340.65" y="534.52" width="9.7" height="32.08" fill="#fff" stroke="#000" stroke-width="1"/>
<rect x="354.94" y="530.34" width="9.7" height="36.26" fill="#fff" stroke="#000" stroke-width="1"/>
<rect x="369.23" y="544.29" width="9.7" height="22.31" fill="#fff" stroke="#000" stroke-width="1"/>
<rect x="383.52" y="553.07" width="9.7" height="13.53" fill="#fff" stroke="#000" stroke-width="1"/>
<rect x="397.81" y="545.40" width="9.7" height="21.20" fill="#fff" stroke="#000" stroke-width="1"/>
<rect x="412.10" y="549.17" width="9.7" height="17.43" fill="#fff" stroke="#000" stroke-width="1"/>
<rect x="426.39" y="559.63" width="9.7" height="6.97" fill="#fff" stroke="#000" stroke-width="1"/>
<rect x="440.68" y="552.65" width="9.7" height="13.95" fill="#fff" stroke="#000" stroke-width="1"/>
<rect x="454.98" y="556.84" width="9.7" height="9.76" fill="#fff" stroke="#000" stroke-width="1"/>
<rect x="469.27" y="554.05" width="9.7" height="12.55" fill="#fff" stroke="#000" stroke-width="1"/>
<rect x="483.56" y="553.49" width="9.7" height="13.11" fill="#fff" stroke="#000" stroke-width="1"/>
<rect x="497.85" y="557.95" width="9.7" height="8.65" fill="#fff" stroke="#000" stroke-width="1"/>
<rect x="512.14" y="554.75" width="9.7" height="11.85" fill="#fff" stroke="#000" stroke-width="1"/>
<rect x="526.43" y="562.28" width="9.7" height="4.32" fill="#fff" stroke="#000" stroke-width="1"/>
<rect x="540.72" y="563.81" width="9.7" height="2.79" fill="#fff" stroke="#000" stroke-width="1"/>
<rect x="555.01" y="556.70" width="9.7" height="9.90" fill="#fff" stroke="#000" stroke-width="1"/>
<rect x="569.31" y="559.07" width="9.7" height="7.53" fill="#fff" stroke="#000" stroke-width="1"/>
<rect x="583.60" y="558.09" width="9.7" height="8.51" fill="#fff" stroke="#000" stroke-width="1"/>
<rect x="597.89" y="558.09" width="9.7" height="8.51" fill="#fff" stroke="#000" stroke-width="1"/>
<rect x="612.18" y="556.56" width="9.7" height="10.04" fill="#fff" stroke="#000" stroke-width="1"/>
<rect x="626.47" y="562.00" width="9.7" height="4.60" fill="#fff" stroke="#000" stroke-width="1"/>
<rect x="640.76" y="554.61" width="9.7" height="11.99" fill="#fff" stroke="#000" stroke-width="1"/>
<rect x="655.05" y="558.09" width="9.7" height="8.51" fill="#fff" stroke="#000" stroke-width="1"/>
<rect x="669.35" y="562.69" width="9.7" height="3.91" fill="#fff" stroke="#000" stroke-width="1"/>
<rect x="683.64" y="563.53" width="9.7" height="3.07" fill="#fff" stroke="#000" stroke-width="1"/>
<path d="M121.6,576.6 V357.4 H693.25 V576.6 M121.6,566.6 H693.25" fill="none" stroke="#000" stroke-width="1.2"/>
<path d="M264.51,566.6 V576.6" stroke="#000" stroke-width="1.2"/>
<path d="M407.42,566.6 V576.6" stroke="#000" stroke-width="1.2"/>
<path d="M550.34,566.6 V576.6" stroke="#000" stroke-width="1.2"/>
<path d="M111.6,566.60 H121.6" stroke="#000" stroke-width="1.2"/>
<text transform="translate(101.60,572.90) scale(1.01,1)" text-anchor="end" font-family='"Liberation Sans", sans-serif' font-size="19.5">0</text>
<path d="M111.6,496.87 H121.6" stroke="#000" stroke-width="1.2"/>
<text transform="translate(101.60,503.17) scale(1.01,1)" text-anchor="end" font-family='"Liberation Sans", sans-serif' font-size="19.5">50</text>
<path d="M111.6,427.13 H121.6" stroke="#000" stroke-width="1.2"/>
<text transform="translate(101.60,433.43) scale(1.01,1)" text-anchor="end" font-family='"Liberation Sans", sans-serif' font-size="19.5">100</text>
<path d="M111.6,357.40 H121.6" stroke="#000" stroke-width="1.2"/>
<text transform="translate(101.60,363.70) scale(1.01,1)" text-anchor="end" font-family='"Liberation Sans", sans-serif' font-size="19.5">150</text>
<text transform="translate(121.60,602.90) scale(1.01,1)" text-anchor="middle" font-family='"Liberation Sans", sans-serif' font-size="19.5">0.00</text>
<text transform="translate(264.51,602.90) scale(1.01,1)" text-anchor="middle" font-family='"Liberation Sans", sans-serif' font-size="19.5">0.03</text>
<text transform="translate(407.42,602.90) scale(1.01,1)" text-anchor="middle" font-family='"Liberation Sans", sans-serif' font-size="19.5">0.06</text>
<text transform="translate(550.34,602.90) scale(1.01,1)" text-anchor="middle" font-family='"Liberation Sans", sans-serif' font-size="19.5">0.09</text>
<text transform="translate(693.25,602.90) scale(1.01,1)" text-anchor="middle" font-family='"Liberation Sans", sans-serif' font-size="19.5">0.12</text>
<path d="M145.22,381.07 L146.18,383.91" stroke="#000" stroke-width="3.6" stroke-linecap="round"/>
<path d="M152.96,402.63 L154.04,405.43" stroke="#000" stroke-width="3.6" stroke-linecap="round"/>
<path d="M160.90,422.13 L162.10,424.87" stroke="#000" stroke-width="3.6" stroke-linecap="round"/>
<path d="M170.02,441.69 L171.38,444.37" stroke="#000" stroke-width="3.6" stroke-linecap="round"/>
<path d="M182.41,464.09 L183.99,466.64" stroke="#000" stroke-width="3.6" stroke-linecap="round"/>
<path d="M195.19,482.99 L197.01,485.38" stroke="#000" stroke-width="3.6" stroke-linecap="round"/>
<path d="M211.54,502.19 L213.66,504.32" stroke="#000" stroke-width="3.6" stroke-linecap="round"/>
<path d="M230.80,519.22 L233.20,521.00" stroke="#000" stroke-width="3.6" stroke-linecap="round"/>
<path d="M251.08,532.31 L253.72,533.73" stroke="#000" stroke-width="3.6" stroke-linecap="round"/>
<path d="M271.00,541.65 L273.80,542.74" stroke="#000" stroke-width="3.6" stroke-linecap="round"/>
<path d="M291.16,548.51 L294.04,549.32" stroke="#000" stroke-width="3.6" stroke-linecap="round"/>
<path d="M310.83,553.38 L313.77,553.98" stroke="#000" stroke-width="3.6" stroke-linecap="round"/>
<path d="M331.02,557.02 L333.98,557.46" stroke="#000" stroke-width="3.6" stroke-linecap="round"/>
<path d="M350.71,559.60 L353.69,559.93" stroke="#000" stroke-width="3.6" stroke-linecap="round"/>
<path d="M371.00,561.54 L374.00,561.77" stroke="#000" stroke-width="3.6" stroke-linecap="round"/>
<path d="M390.70,562.90 L393.70,563.07" stroke="#000" stroke-width="3.6" stroke-linecap="round"/>
<path d="M410.80,563.92 L413.80,564.04" stroke="#000" stroke-width="3.6" stroke-linecap="round"/>
<path d="M430.20,564.63 L433.20,564.72" stroke="#000" stroke-width="3.6" stroke-linecap="round"/>
<path d="M450.30,565.17 L453.30,565.24" stroke="#000" stroke-width="3.6" stroke-linecap="round"/>
<path d="M470.40,565.56 L473.40,565.61" stroke="#000" stroke-width="3.6" stroke-linecap="round"/>
<path d="M490.30,565.84 L493.30,565.88" stroke="#000" stroke-width="3.6" stroke-linecap="round"/>
<path d="M510.50,566.05 L513.50,566.08" stroke="#000" stroke-width="3.6" stroke-linecap="round"/>
<path d="M530.00,566.20 L533.00,566.22" stroke="#000" stroke-width="3.6" stroke-linecap="round"/>
<path d="M550.70,566.31 L553.70,566.33" stroke="#000" stroke-width="3.6" stroke-linecap="round"/>
<path d="M570.10,566.39 L573.10,566.40" stroke="#000" stroke-width="3.6" stroke-linecap="round"/>
<path d="M589.00,566.44 L592.00,566.45" stroke="#000" stroke-width="3.6" stroke-linecap="round"/>
<path d="M610.40,566.49 L613.40,566.49" stroke="#000" stroke-width="3.6" stroke-linecap="round"/>
<path d="M630.60,566.52 L633.60,566.52" stroke="#000" stroke-width="3.6" stroke-linecap="round"/>
<path d="M650.00,566.54 L653.00,566.54" stroke="#000" stroke-width="3.6" stroke-linecap="round"/>
<path d="M670.20,566.56 L673.20,566.56" stroke="#000" stroke-width="3.6" stroke-linecap="round"/>
<path d="M688.90,566.57 L691.90,566.57" stroke="#000" stroke-width="3.6" stroke-linecap="round"/>
<path d="M145.42,396.38 L147.25,400.80 L149.08,405.09 L150.92,409.26 L152.75,413.31 L154.58,417.25 L156.41,421.07 L158.24,424.78 L160.08,428.39 L161.91,431.89 L163.74,435.29 L165.57,438.60 L167.41,441.81 L169.24,444.93 L171.07,447.96 L172.90,450.90 L174.73,453.76 L176.57,456.54 L178.40,459.24 L180.23,461.86 L182.06,464.41 L183.90,466.89 L185.73,469.29 L187.56,471.63 L189.39,473.90 L191.22,476.11 L193.06,478.25 L194.89,480.34 L196.72,482.37 L198.55,484.33 L200.39,486.25 L202.22,488.11 L204.05,489.92 L205.88,491.67 L207.71,493.38 L209.55,495.04 L211.38,496.66 L213.21,498.23 L215.04,499.75 L216.88,501.23 L218.71,502.68 L220.54,504.08 L222.37,505.44 L224.20,506.77 L226.04,508.05 L227.87,509.31 L229.70,510.53 L231.53,511.71 L233.36,512.86 L235.20,513.98 L237.03,515.08 L238.86,516.14 L240.69,517.17 L242.53,518.17 L244.36,519.15 L246.19,520.10 L248.02,521.02 L249.85,521.92 L251.69,522.80 L253.52,523.65 L255.35,524.48 L257.18,525.28 L259.02,526.07 L260.85,526.83 L262.68,527.58 L264.51,528.30 L266.34,529.00 L268.18,529.69 L270.01,530.36 L271.84,531.01 L273.67,531.64 L275.51,532.26 L277.34,532.86 L279.17,533.45 L281.00,534.02 L282.83,534.57 L284.67,535.11 L286.50,535.64 L288.33,536.15 L290.16,536.65 L292.00,537.14 L293.83,537.62 L295.66,538.08 L297.49,538.53 L299.32,538.97 L301.16,539.40 L302.99,539.82 L304.82,540.23 L306.65,540.63 L308.49,541.02 L310.32,541.40 L312.15,541.76 L313.98,542.13 L315.81,542.48 L317.65,542.82 L319.48,543.16 L321.31,543.48 L323.14,543.80 L324.98,544.11 L326.81,544.42 L328.64,544.72 L330.47,545.01 L332.30,545.29 L334.14,545.57 L335.97,545.84 L337.80,546.10 L339.63,546.36 L341.47,546.61 L343.30,546.86 L345.13,547.10 L346.96,547.33 L348.79,547.57 L350.63,547.79 L352.46,548.01 L354.29,548.23 L356.12,548.44 L357.96,548.64 L359.79,548.85 L361.62,549.04 L363.45,549.24 L365.28,549.43 L367.12,549.61 L368.95,549.79 L370.78,549.97 L372.61,550.15 L374.45,550.32 L376.28,550.48 L378.11,550.65 L379.94,550.81 L381.77,550.97 L383.61,551.12 L385.44,551.27 L387.27,551.42 L389.10,551.57 L390.94,551.71 L392.77,551.85 L394.60,551.99 L396.43,552.12 L398.26,552.25 L400.10,552.38 L401.93,552.51 L403.76,552.64 L405.59,552.76 L407.42,552.88 L409.26,553.00 L411.09,553.12 L412.92,553.23 L414.75,553.34 L416.59,553.45 L418.42,553.56 L420.25,553.67 L422.08,553.78 L423.91,553.88 L425.75,553.98 L427.58,554.08 L429.41,554.18 L431.24,554.28 L433.08,554.37 L434.91,554.47 L436.74,554.56 L438.57,554.65 L440.40,554.74 L442.24,554.83 L444.07,554.92 L445.90,555.01 L447.73,555.09 L449.57,555.17 L451.40,555.26 L453.23,555.34 L455.06,555.42 L456.89,555.50 L458.73,555.58 L460.56,555.65 L462.39,555.73 L464.22,555.80 L466.06,555.88 L467.89,555.95 L469.72,556.02 L471.55,556.09 L473.38,556.16 L475.22,556.23 L477.05,556.30 L478.88,556.37 L480.71,556.44 L482.55,556.50 L484.38,556.57 L486.21,556.63 L488.04,556.70 L489.87,556.76 L491.71,556.82 L493.54,556.88 L495.37,556.94 L497.20,557.01 L499.04,557.07 L500.87,557.12 L502.70,557.18 L504.53,557.24 L506.36,557.30 L508.20,557.35 L510.03,557.41 L511.86,557.47 L513.69,557.52 L515.53,557.58 L517.36,557.63 L519.19,557.68 L521.02,557.74 L522.85,557.79 L524.69,557.84 L526.52,557.89 L528.35,557.94 L530.18,557.99 L532.02,558.04 L533.85,558.09 L535.68,558.14 L537.51,558.19 L539.34,558.24 L541.18,558.29 L543.01,558.33 L544.84,558.38 L546.67,558.43 L548.51,558.47 L550.34,558.52 L552.17,558.56 L554.00,558.61 L555.83,558.65 L557.67,558.70 L559.50,558.74 L561.33,558.79 L563.16,558.83 L565.00,558.87 L566.83,558.91 L568.66,558.96 L570.49,559.00 L572.32,559.04 L574.16,559.08 L575.99,559.12 L577.82,559.16 L579.65,559.20 L581.49,559.24 L583.32,559.28 L585.15,559.32 L586.98,559.36 L588.81,559.40 L590.65,559.44 L592.48,559.48 L594.31,559.52 L596.14,559.55 L597.97,559.59 L599.81,559.63 L601.64,559.67 L603.47,559.70 L605.30,559.74 L607.14,559.78 L608.97,559.81 L610.80,559.85 L612.63,559.88 L614.46,559.92 L616.30,559.96 L618.13,559.99 L619.96,560.03 L621.79,560.06 L623.63,560.09 L625.46,560.13 L627.29,560.16 L629.12,560.20 L630.95,560.23 L632.79,560.26 L634.62,560.30 L636.45,560.33 L638.28,560.36 L640.12,560.39 L641.95,560.43 L643.78,560.46 L645.61,560.49 L647.44,560.52 L649.28,560.55 L651.11,560.58 L652.94,560.62 L654.77,560.65 L656.61,560.68 L658.44,560.71 L660.27,560.74 L662.10,560.77 L663.93,560.80 L665.77,560.83 L667.60,560.86 L669.43,560.89 L671.26,560.92 L673.10,560.95 L674.93,560.98 L676.76,561.00 L678.59,561.03 L680.42,561.06 L682.26,561.09 L684.09,561.12 L685.92,561.15 L687.75,561.17 L689.59,561.20 L691.42,561.23 L693.25,561.26" fill="none" stroke="#000" stroke-width="3.7" stroke-linecap="round"/>
<text transform="translate(558.50,392.10) scale(1.01,1)" text-anchor="start" font-family='"Liberation Sans", sans-serif' font-size="19.5">closed times</text>
<rect x="140.97" y="655.48" width="9.7" height="200.72" fill="#fff" stroke="#000" stroke-width="1"/>
<rect x="155.27" y="713.21" width="9.7" height="142.99" fill="#fff" stroke="#000" stroke-width="1"/>
<rect x="169.56" y="734.69" width="9.7" height="121.51" fill="#fff" stroke="#000" stroke-width="1"/>
<rect x="183.85" y="761.55" width="9.7" height="94.65" fill="#fff" stroke="#000" stroke-width="1"/>
<rect x="198.15" y="792.70" width="9.7" height="63.50" fill="#fff" stroke="#000" stroke-width="1"/>
<rect x="212.44" y="787.46" width="9.7" height="68.74" fill="#fff" stroke="#000" stroke-width="1"/>
<rect x="226.74" y="804.51" width="9.7" height="51.69" fill="#fff" stroke="#000" stroke-width="1"/>
<rect x="241.03" y="816.59" width="9.7" height="39.61" fill="#fff" stroke="#000" stroke-width="1"/>
<rect x="255.32" y="819.68" width="9.7" height="36.52" fill="#fff" stroke="#000" stroke-width="1"/>
<rect x="269.62" y="826.66" width="9.7" height="29.54" fill="#fff" stroke="#000" stroke-width="1"/>
<rect x="283.91" y="833.38" width="9.7" height="22.82" fill="#fff" stroke="#000" stroke-width="1"/>
<rect x="298.20" y="837.60" width="9.7" height="18.60" fill="#fff" stroke="#000" stroke-width="1"/>
<rect x="312.50" y="840.49" width="9.7" height="15.71" fill="#fff" stroke="#000" stroke-width="1"/>
<rect x="326.79" y="842.44" width="9.7" height="13.76" fill="#fff" stroke="#000" stroke-width="1"/>
<rect x="341.09" y="848.14" width="9.7" height="8.06" fill="#fff" stroke="#000" stroke-width="1"/>
<rect x="355.38" y="847.14" width="9.7" height="9.06" fill="#fff" stroke="#000" stroke-width="1"/>
<rect x="369.67" y="849.15" width="9.7" height="7.05" fill="#fff" stroke="#000" stroke-width="1"/>
<rect x="383.97" y="846.60" width="9.7" height="9.60" fill="#fff" stroke="#000" stroke-width="1"/>
<rect x="398.26" y="847.61" width="9.7" height="8.59" fill="#fff" stroke="#000" stroke-width="1"/>
<rect x="412.55" y="852.17" width="9.7" height="4.03" fill="#fff" stroke="#000" stroke-width="1"/>
<rect x="426.85" y="852.84" width="9.7" height="3.36" fill="#fff" stroke="#000" stroke-width="1"/>
<rect x="441.14" y="850.83" width="9.7" height="5.37" fill="#fff" stroke="#000" stroke-width="1"/>
<rect x="455.44" y="853.51" width="9.7" height="2.69" fill="#fff" stroke="#000" stroke-width="1"/>
<rect x="469.73" y="853.51" width="9.7" height="2.69" fill="#fff" stroke="#000" stroke-width="1"/>
<rect x="484.02" y="854.19" width="9.7" height="2.01" fill="#fff" stroke="#000" stroke-width="1"/>
<rect x="498.32" y="851.84" width="9.7" height="4.36" fill="#fff" stroke="#000" stroke-width="1"/>
<rect x="512.61" y="854.19" width="9.7" height="2.01" fill="#fff" stroke="#000" stroke-width="1"/>
<rect x="526.90" y="854.86" width="9.7" height="1.34" fill="#fff" stroke="#000" stroke-width="1"/>
<rect x="541.20" y="854.86" width="9.7" height="1.34" fill="#fff" stroke="#000" stroke-width="1"/>
<rect x="555.49" y="853.18" width="9.7" height="3.02" fill="#fff" stroke="#000" stroke-width="1"/>
<rect x="569.79" y="855.53" width="9.7" height="0.67" fill="#fff" stroke="#000" stroke-width="1"/>
<rect x="584.08" y="855.53" width="9.7" height="0.67" fill="#fff" stroke="#000" stroke-width="1"/>
<rect x="598.37" y="855.53" width="9.7" height="0.67" fill="#fff" stroke="#000" stroke-width="1"/>
<rect x="612.67" y="855.53" width="9.7" height="0.67" fill="#fff" stroke="#000" stroke-width="1"/>
<rect x="626.96" y="855.53" width="9.7" height="0.67" fill="#fff" stroke="#000" stroke-width="1"/>
<rect x="641.25" y="855.53" width="9.7" height="0.67" fill="#fff" stroke="#000" stroke-width="1"/>
<rect x="655.55" y="855.53" width="9.7" height="0.67" fill="#fff" stroke="#000" stroke-width="1"/>
<rect x="669.84" y="856.20" width="9.7" height="0.00" fill="#fff" stroke="#000" stroke-width="1"/>
<rect x="684.14" y="855.53" width="9.7" height="0.67" fill="#fff" stroke="#000" stroke-width="1"/>
<path d="M122.0,866.2 V648.2 H693.75 V866.2 M122.0,856.2 H693.75" fill="none" stroke="#000" stroke-width="1.2"/>
<path d="M264.94,856.2 V866.2" stroke="#000" stroke-width="1.2"/>
<path d="M407.88,856.2 V866.2" stroke="#000" stroke-width="1.2"/>
<path d="M550.81,856.2 V866.2" stroke="#000" stroke-width="1.2"/>
<path d="M112.0,856.20 H122.0" stroke="#000" stroke-width="1.2"/>
<text transform="translate(102.00,862.50) scale(1.01,1)" text-anchor="end" font-family='"Liberation Sans", sans-serif' font-size="19.5">0</text>
<path d="M112.0,789.07 H122.0" stroke="#000" stroke-width="1.2"/>
<text transform="translate(102.00,795.37) scale(1.01,1)" text-anchor="end" font-family='"Liberation Sans", sans-serif' font-size="19.5">100</text>
<path d="M112.0,721.94 H122.0" stroke="#000" stroke-width="1.2"/>
<text transform="translate(102.00,728.24) scale(1.01,1)" text-anchor="end" font-family='"Liberation Sans", sans-serif' font-size="19.5">200</text>
<path d="M112.0,654.81 H122.0" stroke="#000" stroke-width="1.2"/>
<text transform="translate(102.00,661.11) scale(1.01,1)" text-anchor="end" font-family='"Liberation Sans", sans-serif' font-size="19.5">300</text>
<text transform="translate(122.00,892.50) scale(1.01,1)" text-anchor="middle" font-family='"Liberation Sans", sans-serif' font-size="19.5">0.00</text>
<text transform="translate(264.94,892.50) scale(1.01,1)" text-anchor="middle" font-family='"Liberation Sans", sans-serif' font-size="19.5">0.03</text>
<text transform="translate(407.88,892.50) scale(1.01,1)" text-anchor="middle" font-family='"Liberation Sans", sans-serif' font-size="19.5">0.06</text>
<text transform="translate(550.81,892.50) scale(1.01,1)" text-anchor="middle" font-family='"Liberation Sans", sans-serif' font-size="19.5">0.09</text>
<text transform="translate(693.75,892.50) scale(1.01,1)" text-anchor="middle" font-family='"Liberation Sans", sans-serif' font-size="19.5">0.12</text>
<path d="M145.82,670.98 L147.66,675.55 L149.49,680.00 L151.32,684.34 L153.15,688.57 L154.99,692.70 L156.82,696.73 L158.65,700.66 L160.48,704.49 L162.32,708.23 L164.15,711.87 L165.98,715.43 L167.81,718.90 L169.65,722.28 L171.48,725.58 L173.31,728.80 L175.14,731.94 L176.98,735.00 L178.81,737.99 L180.64,740.90 L182.47,743.74 L184.31,746.51 L186.14,749.21 L187.97,751.85 L189.80,754.42 L191.64,756.93 L193.47,759.37 L195.30,761.76 L197.13,764.08 L198.97,766.35 L200.80,768.57 L202.63,770.73 L204.46,772.83 L206.30,774.89 L208.13,776.89 L209.96,778.84 L211.79,780.75 L213.63,782.61 L215.46,784.42 L217.29,786.19 L219.12,787.92 L220.96,789.60 L222.79,791.24 L224.62,792.84 L226.45,794.40 L228.29,795.92 L230.12,797.41 L231.95,798.86 L233.78,800.27 L235.62,801.65 L237.45,802.99 L239.28,804.30 L241.11,805.58 L242.95,806.83 L244.78,808.04 L246.61,809.23 L248.44,810.39 L250.28,811.52 L252.11,812.62 L253.94,813.69 L255.77,814.74 L257.61,815.76 L259.44,816.76 L261.27,817.73 L263.10,818.68 L264.94,819.60 L266.77,820.50 L268.60,821.38 L270.44,822.24 L272.27,823.08 L274.10,823.89 L275.93,824.69 L277.77,825.46 L279.60,826.22 L281.43,826.96 L283.26,827.68 L285.10,828.38 L286.93,829.07 L288.76,829.74 L290.59,830.39 L292.43,831.03 L294.26,831.65 L296.09,832.25 L297.92,832.84 L299.76,833.42 L301.59,833.98 L303.42,834.52 L305.25,835.06 L307.09,835.58 L308.92,836.09 L310.75,836.58 L312.58,837.07 L314.42,837.54 L316.25,838.00 L318.08,838.45 L319.91,838.88 L321.75,839.31 L323.58,839.73 L325.41,840.13 L327.24,840.53 L329.08,840.91 L330.91,841.29 L332.74,841.66 L334.57,842.02 L336.41,842.37 L338.24,842.71 L340.07,843.04 L341.90,843.36 L343.74,843.68 L345.57,843.99 L347.40,844.29 L349.23,844.58 L351.07,844.87 L352.90,845.15 L354.73,845.42 L356.56,845.69 L358.40,845.94 L360.23,846.20 L362.06,846.44 L363.89,846.68 L365.73,846.92 L367.56,847.15 L369.39,847.37 L371.22,847.59 L373.06,847.80 L374.89,848.01 L376.72,848.21 L378.55,848.41 L380.39,848.60 L382.22,848.79 L384.05,848.97 L385.88,849.15 L387.72,849.32 L389.55,849.49 L391.38,849.65 L393.21,849.82 L395.05,849.97 L396.88,850.13 L398.71,850.28 L400.54,850.42 L402.38,850.56 L404.21,850.70 L406.04,850.84 L407.88,850.97 L409.71,851.10 L411.54,851.23 L413.37,851.35 L415.21,851.47 L417.04,851.58 L418.87,851.70 L420.70,851.81 L422.54,851.92 L424.37,852.02 L426.20,852.13 L428.03,852.23 L429.87,852.32 L431.70,852.42 L433.53,852.51 L435.36,852.60 L437.20,852.69 L439.03,852.78 L440.86,852.86 L442.69,852.94 L444.53,853.02 L446.36,853.10 L448.19,853.18 L450.02,853.25 L451.86,853.33 L453.69,853.40 L455.52,853.47 L457.35,853.53 L459.19,853.60 L461.02,853.66 L462.85,853.73 L464.68,853.79 L466.52,853.85 L468.35,853.90 L470.18,853.96 L472.01,854.02 L473.85,854.07 L475.68,854.12 L477.51,854.17 L479.34,854.22 L481.18,854.27 L483.01,854.32 L484.84,854.37 L486.67,854.41 L488.51,854.46 L490.34,854.50 L492.17,854.54 L494.00,854.58 L495.84,854.62 L497.67,854.66 L499.50,854.70 L501.33,854.73 L503.17,854.77 L505.00,854.81 L506.83,854.84 L508.66,854.87 L510.50,854.91 L512.33,854.94 L514.16,854.97 L515.99,855.00 L517.83,855.03 L519.66,855.06 L521.49,855.09 L523.32,855.11 L525.16,855.14 L526.99,855.17 L528.82,855.19 L530.65,855.22 L532.49,855.24 L534.32,855.26 L536.15,855.29 L537.98,855.31 L539.82,855.33 L541.65,855.35 L543.48,855.37 L545.31,855.39 L547.15,855.41 L548.98,855.43 L550.81,855.45 L552.65,855.47 L554.48,855.49 L556.31,855.51 L558.14,855.52 L559.98,855.54 L561.81,855.56 L563.64,855.57 L565.47,855.59 L567.31,855.60 L569.14,855.62 L570.97,855.63 L572.80,855.65 L574.64,855.66 L576.47,855.67 L578.30,855.69 L580.13,855.70 L581.97,855.71 L583.80,855.72 L585.63,855.73 L587.46,855.75 L589.30,855.76 L591.13,855.77 L592.96,855.78 L594.79,855.79 L596.63,855.80 L598.46,855.81 L600.29,855.82 L602.12,855.83 L603.96,855.84 L605.79,855.85 L607.62,855.86 L609.45,855.86 L611.29,855.87 L613.12,855.88 L614.95,855.89 L616.78,855.90 L618.62,855.90 L620.45,855.91 L622.28,855.92 L624.11,855.92 L625.95,855.93 L627.78,855.94 L629.61,855.94 L631.44,855.95 L633.28,855.96 L635.11,855.96 L636.94,855.97 L638.77,855.97 L640.61,855.98 L642.44,855.99 L644.27,855.99 L646.10,856.00 L647.94,856.00 L649.77,856.01 L651.60,856.01 L653.43,856.02 L655.27,856.02 L657.10,856.02 L658.93,856.03 L660.76,856.03 L662.60,856.04 L664.43,856.04 L666.26,856.04 L668.09,856.05 L669.93,856.05 L671.76,856.06 L673.59,856.06 L675.42,856.06 L677.26,856.07 L679.09,856.07 L680.92,856.07 L682.75,856.08 L684.59,856.08 L686.42,856.08 L688.25,856.08 L690.08,856.09 L691.92,856.09 L693.75,856.09" fill="none" stroke="#000" stroke-width="3.7" stroke-linecap="round"/>
<text transform="translate(559.20,688.10) scale(1.01,1)" text-anchor="start" font-family='"Liberation Sans", sans-serif' font-size="19.5">1 pore open</text>
<rect x="141.81" y="950.83" width="9.7" height="185.67" fill="#fff" stroke="#000" stroke-width="1"/>
<rect x="156.10" y="968.28" width="9.7" height="168.22" fill="#fff" stroke="#000" stroke-width="1"/>
<rect x="170.39" y="1008.94" width="9.7" height="127.56" fill="#fff" stroke="#000" stroke-width="1"/>
<rect x="184.68" y="1010.16" width="9.7" height="126.34" fill="#fff" stroke="#000" stroke-width="1"/>
<rect x="198.97" y="1061.64" width="9.7" height="74.86" fill="#fff" stroke="#000" stroke-width="1"/>
<rect x="213.26" y="1066.87" width="9.7" height="69.63" fill="#fff" stroke="#000" stroke-width="1"/>
<rect x="227.55" y="1084.50" width="9.7" height="52.00" fill="#fff" stroke="#000" stroke-width="1"/>
<rect x="241.84" y="1075.60" width="9.7" height="60.90" fill="#fff" stroke="#000" stroke-width="1"/>
<rect x="256.12" y="1077.17" width="9.7" height="59.33" fill="#fff" stroke="#000" stroke-width="1"/>
<rect x="270.41" y="1085.55" width="9.7" height="50.95" fill="#fff" stroke="#000" stroke-width="1"/>
<rect x="284.70" y="1096.54" width="9.7" height="39.96" fill="#fff" stroke="#000" stroke-width="1"/>
<rect x="298.99" y="1113.64" width="9.7" height="22.86" fill="#fff" stroke="#000" stroke-width="1"/>
<rect x="313.28" y="1117.48" width="9.7" height="19.02" fill="#fff" stroke="#000" stroke-width="1"/>
<rect x="327.57" y="1120.45" width="9.7" height="16.05" fill="#fff" stroke="#000" stroke-width="1"/>
<rect x="341.86" y="1112.24" width="9.7" height="24.26" fill="#fff" stroke="#000" stroke-width="1"/>
<rect x="356.15" y="1128.12" width="9.7" height="8.38" fill="#fff" stroke="#000" stroke-width="1"/>
<rect x="370.43" y="1124.63" width="9.7" height="11.87" fill="#fff" stroke="#000" stroke-width="1"/>
<rect x="384.72" y="1127.78" width="9.7" height="8.72" fill="#fff" stroke="#000" stroke-width="1"/>
<rect x="399.01" y="1129.87" width="9.7" height="6.63" fill="#fff" stroke="#000" stroke-width="1"/>
<rect x="413.30" y="1129.69" width="9.7" height="6.81" fill="#fff" stroke="#000" stroke-width="1"/>
<rect x="427.59" y="1122.37" width="9.7" height="14.13" fill="#fff" stroke="#000" stroke-width="1"/>
<rect x="441.88" y="1134.41" width="9.7" height="2.09" fill="#fff" stroke="#000" stroke-width="1"/>
<rect x="456.17" y="1124.11" width="9.7" height="12.39" fill="#fff" stroke="#000" stroke-width="1"/>
<rect x="470.46" y="1134.06" width="9.7" height="2.44" fill="#fff" stroke="#000" stroke-width="1"/>
<rect x="484.74" y="1133.01" width="9.7" height="3.49" fill="#fff" stroke="#000" stroke-width="1"/>
<rect x="499.03" y="1127.78" width="9.7" height="8.72" fill="#fff" stroke="#000" stroke-width="1"/>
<rect x="513.32" y="1133.01" width="9.7" height="3.49" fill="#fff" stroke="#000" stroke-width="1"/>
<rect x="527.61" y="1134.76" width="9.7" height="1.74" fill="#fff" stroke="#000" stroke-width="1"/>
<rect x="541.90" y="1131.44" width="9.7" height="5.06" fill="#fff" stroke="#000" stroke-width="1"/>
<rect x="556.19" y="1135.63" width="9.7" height="0.87" fill="#fff" stroke="#000" stroke-width="1"/>
<rect x="570.48" y="1134.76" width="9.7" height="1.74" fill="#fff" stroke="#000" stroke-width="1"/>
<rect x="584.77" y="1135.63" width="9.7" height="0.87" fill="#fff" stroke="#000" stroke-width="1"/>
<rect x="599.05" y="1135.63" width="9.7" height="0.87" fill="#fff" stroke="#000" stroke-width="1"/>
<rect x="613.34" y="1135.63" width="9.7" height="0.87" fill="#fff" stroke="#000" stroke-width="1"/>
<rect x="627.63" y="1136.50" width="9.7" height="0.00" fill="#fff" stroke="#000" stroke-width="1"/>
<rect x="641.92" y="1135.63" width="9.7" height="0.87" fill="#fff" stroke="#000" stroke-width="1"/>
<rect x="656.21" y="1136.50" width="9.7" height="0.00" fill="#fff" stroke="#000" stroke-width="1"/>
<rect x="670.50" y="1136.50" width="9.7" height="0.00" fill="#fff" stroke="#000" stroke-width="1"/>
<rect x="684.79" y="1136.50" width="9.7" height="0.00" fill="#fff" stroke="#000" stroke-width="1"/>
<path d="M122.85,1146.5 V928.5 H694.4 V1146.5 M122.85,1136.5 H694.4" fill="none" stroke="#000" stroke-width="1.2"/>
<path d="M265.74,1136.5 V1146.5" stroke="#000" stroke-width="1.2"/>
<path d="M408.62,1136.5 V1146.5" stroke="#000" stroke-width="1.2"/>
<path d="M551.51,1136.5 V1146.5" stroke="#000" stroke-width="1.2"/>
<path d="M112.85,1136.50 H122.85" stroke="#000" stroke-width="1.2"/>
<text transform="translate(102.85,1142.80) scale(1.01,1)" text-anchor="end" font-family='"Liberation Sans", sans-serif' font-size="19.5">0</text>
<path d="M112.85,1066.70 H122.85" stroke="#000" stroke-width="1.2"/>
<text transform="translate(102.85,1073.00) scale(1.01,1)" text-anchor="end" font-family='"Liberation Sans", sans-serif' font-size="19.5">40</text>
<path d="M112.85,996.90 H122.85" stroke="#000" stroke-width="1.2"/>
<text transform="translate(102.85,1003.20) scale(1.01,1)" text-anchor="end" font-family='"Liberation Sans", sans-serif' font-size="19.5">80</text>
<text transform="translate(122.85,1172.80) scale(1.01,1)" text-anchor="middle" font-family='"Liberation Sans", sans-serif' font-size="19.5">0.00</text>
<text transform="translate(265.74,1172.80) scale(1.01,1)" text-anchor="middle" font-family='"Liberation Sans", sans-serif' font-size="19.5">0.03</text>
<text transform="translate(408.62,1172.80) scale(1.01,1)" text-anchor="middle" font-family='"Liberation Sans", sans-serif' font-size="19.5">0.06</text>
<text transform="translate(551.51,1172.80) scale(1.01,1)" text-anchor="middle" font-family='"Liberation Sans", sans-serif' font-size="19.5">0.09</text>
<text transform="translate(694.40,1172.80) scale(1.01,1)" text-anchor="middle" font-family='"Liberation Sans", sans-serif' font-size="19.5">0.12</text>
<path d="M146.66,947.52 L148.50,951.42 L150.33,955.24 L152.16,958.98 L153.99,962.64 L155.82,966.22 L157.66,969.74 L159.49,973.18 L161.32,976.54 L163.15,979.84 L164.98,983.08 L166.82,986.24 L168.65,989.34 L170.48,992.37 L172.31,995.35 L174.14,998.26 L175.97,1001.11 L177.81,1003.90 L179.64,1006.64 L181.47,1009.32 L183.30,1011.94 L185.13,1014.51 L186.97,1017.03 L188.80,1019.49 L190.63,1021.90 L192.46,1024.27 L194.29,1026.58 L196.13,1028.85 L197.96,1031.07 L199.79,1033.24 L201.62,1035.37 L203.45,1037.46 L205.29,1039.50 L207.12,1041.50 L208.95,1043.46 L210.78,1045.38 L212.61,1047.26 L214.44,1049.10 L216.28,1050.91 L218.11,1052.67 L219.94,1054.40 L221.77,1056.09 L223.60,1057.75 L225.44,1059.38 L227.27,1060.97 L229.10,1062.52 L230.93,1064.05 L232.76,1065.55 L234.60,1067.01 L236.43,1068.44 L238.26,1069.85 L240.09,1071.22 L241.92,1072.57 L243.75,1073.89 L245.59,1075.18 L247.42,1076.44 L249.25,1077.68 L251.08,1078.89 L252.91,1080.08 L254.75,1081.25 L256.58,1082.39 L258.41,1083.50 L260.24,1084.60 L262.07,1085.67 L263.91,1086.71 L265.74,1087.74 L267.57,1088.75 L269.40,1089.73 L271.23,1090.70 L273.07,1091.64 L274.90,1092.57 L276.73,1093.47 L278.56,1094.36 L280.39,1095.23 L282.22,1096.08 L284.06,1096.91 L285.89,1097.73 L287.72,1098.53 L289.55,1099.31 L291.38,1100.08 L293.22,1100.83 L295.05,1101.57 L296.88,1102.29 L298.71,1102.99 L300.54,1103.69 L302.38,1104.36 L304.21,1105.03 L306.04,1105.67 L307.87,1106.31 L309.70,1106.93 L311.53,1107.54 L313.37,1108.14 L315.20,1108.72 L317.03,1109.30 L318.86,1109.86 L320.69,1110.41 L322.53,1110.95 L324.36,1111.47 L326.19,1111.99 L328.02,1112.50 L329.85,1112.99 L331.69,1113.48 L333.52,1113.95 L335.35,1114.42 L337.18,1114.87 L339.01,1115.32 L340.85,1115.75 L342.68,1116.18 L344.51,1116.60 L346.34,1117.01 L348.17,1117.41 L350.00,1117.81 L351.84,1118.19 L353.67,1118.57 L355.50,1118.94 L357.33,1119.30 L359.16,1119.66 L361.00,1120.00 L362.83,1120.34 L364.66,1120.68 L366.49,1121.00 L368.32,1121.32 L370.16,1121.64 L371.99,1121.94 L373.82,1122.24 L375.65,1122.54 L377.48,1122.83 L379.31,1123.11 L381.15,1123.38 L382.98,1123.65 L384.81,1123.92 L386.64,1124.18 L388.47,1124.43 L390.31,1124.68 L392.14,1124.93 L393.97,1125.16 L395.80,1125.40 L397.63,1125.63 L399.47,1125.85 L401.30,1126.07 L403.13,1126.29 L404.96,1126.50 L406.79,1126.70 L408.62,1126.91 L410.46,1127.10 L412.29,1127.30 L414.12,1127.49 L415.95,1127.67 L417.78,1127.86 L419.62,1128.03 L421.45,1128.21 L423.28,1128.38 L425.11,1128.55 L426.94,1128.71 L428.78,1128.87 L430.61,1129.03 L432.44,1129.18 L434.27,1129.33 L436.10,1129.48 L437.94,1129.63 L439.77,1129.77 L441.60,1129.91 L443.43,1130.04 L445.26,1130.18 L447.09,1130.31 L448.93,1130.43 L450.76,1130.56 L452.59,1130.68 L454.42,1130.80 L456.25,1130.92 L458.09,1131.03 L459.92,1131.15 L461.75,1131.26 L463.58,1131.37 L465.41,1131.47 L467.25,1131.58 L469.08,1131.68 L470.91,1131.78 L472.74,1131.87 L474.57,1131.97 L476.40,1132.06 L478.24,1132.15 L480.07,1132.24 L481.90,1132.33 L483.73,1132.42 L485.56,1132.50 L487.40,1132.58 L489.23,1132.67 L491.06,1132.74 L492.89,1132.82 L494.72,1132.90 L496.56,1132.97 L498.39,1133.04 L500.22,1133.12 L502.05,1133.19 L503.88,1133.25 L505.72,1133.32 L507.55,1133.39 L509.38,1133.45 L511.21,1133.51 L513.04,1133.58 L514.87,1133.64 L516.71,1133.69 L518.54,1133.75 L520.37,1133.81 L522.20,1133.86 L524.03,1133.92 L525.87,1133.97 L527.70,1134.02 L529.53,1134.08 L531.36,1134.13 L533.19,1134.17 L535.03,1134.22 L536.86,1134.27 L538.69,1134.32 L540.52,1134.36 L542.35,1134.40 L544.18,1134.45 L546.02,1134.49 L547.85,1134.53 L549.68,1134.57 L551.51,1134.61 L553.34,1134.65 L555.18,1134.69 L557.01,1134.73 L558.84,1134.76 L560.67,1134.80 L562.50,1134.83 L564.34,1134.87 L566.17,1134.90 L568.00,1134.93 L569.83,1134.97 L571.66,1135.00 L573.50,1135.03 L575.33,1135.06 L577.16,1135.09 L578.99,1135.12 L580.82,1135.15 L582.65,1135.18 L584.49,1135.20 L586.32,1135.23 L588.15,1135.26 L589.98,1135.28 L591.81,1135.31 L593.65,1135.33 L595.48,1135.36 L597.31,1135.38 L599.14,1135.40 L600.97,1135.42 L602.81,1135.45 L604.64,1135.47 L606.47,1135.49 L608.30,1135.51 L610.13,1135.53 L611.96,1135.55 L613.80,1135.57 L615.63,1135.59 L617.46,1135.61 L619.29,1135.63 L621.12,1135.64 L622.96,1135.66 L624.79,1135.68 L626.62,1135.70 L628.45,1135.71 L630.28,1135.73 L632.12,1135.75 L633.95,1135.76 L635.78,1135.78 L637.61,1135.79 L639.44,1135.81 L641.28,1135.82 L643.11,1135.83 L644.94,1135.85 L646.77,1135.86 L648.60,1135.87 L650.43,1135.89 L652.27,1135.90 L654.10,1135.91 L655.93,1135.92 L657.76,1135.94 L659.59,1135.95 L661.43,1135.96 L663.26,1135.97 L665.09,1135.98 L666.92,1135.99 L668.75,1136.00 L670.59,1136.01 L672.42,1136.02 L674.25,1136.03 L676.08,1136.04 L677.91,1136.05 L679.74,1136.06 L681.58,1136.07 L683.41,1136.08 L685.24,1136.09 L687.07,1136.10 L688.90,1136.10 L690.74,1136.11 L692.57,1136.12 L694.40,1136.13" fill="none" stroke="#000" stroke-width="3.7" stroke-linecap="round"/>
<text transform="translate(559.30,964.20) scale(1.01,1)" text-anchor="start" font-family='"Liberation Sans", sans-serif' font-size="19.5">2 pores open</text>
<text transform="translate(55.3,825.0) rotate(-90)" font-family='"Liberation Sans", sans-serif' font-weight="bold" font-size="23">No of events</text>
<text x="396" y="1195.7" font-family='"Liberation Sans", sans-serif' font-weight="bold" font-size="23">sec</text>
</svg>
</body></html>
